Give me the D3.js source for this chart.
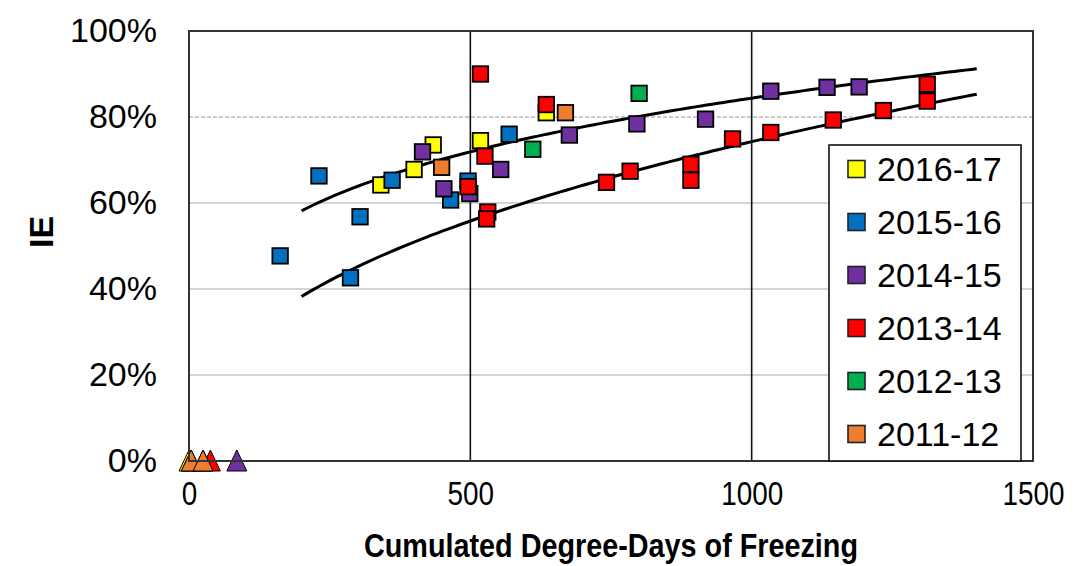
<!DOCTYPE html>
<html>
<head>
<meta charset="utf-8">
<script src="https://cdn.jsdelivr.net/npm/d3@7"></script>
<style>
  body { margin: 0; background: #fff; }
  text { font-family: "Liberation Sans", Arial, sans-serif; fill: #000; }
</style>
</head>
<body>
<div class="container"></div>
<script>
// seasons, in legend / drawing order
const SEASONS = ["2016-17", "2015-16", "2014-15", "2013-14", "2012-13", "2011-12"];
const COLORS = ["#ffff00", "#0070c0", "#7030a0", "#ff0000", "#00b050", "#ed7d31"];

// cumulated degree-days (x) and IE (y) per season
const dd1617 = [341, 400, 434, 518, 635];
const ie1617 = [0.642, 0.678, 0.735, 0.745, 0.810];
const dd1516 = [162, 231, 287, 304, 361, 465, 496, 569];
const ie1516 = [0.477, 0.663, 0.426, 0.568, 0.653, 0.607, 0.651, 0.760];
const dd1415 = [415, 453, 499, 554, 676, 796, 918, 1034, 1134, 1191];
const ie1415 = [0.719, 0.633, 0.622, 0.678, 0.758, 0.784, 0.795, 0.860, 0.869, 0.870];
const dd1314 = [496, 518, 526, 531, 529, 635, 742, 784, 892, 892, 966, 1034, 1145, 1234, 1312, 1312];
const ie1314 = [0.638, 0.900, 0.709, 0.579, 0.563, 0.829, 0.648, 0.674, 0.690, 0.653, 0.749, 0.764, 0.793, 0.815, 0.876, 0.837];
const dd1213 = [611, 800];
const ie1213 = [0.725, 0.855];
const dd1112 = [449, 669];
const ie1112 = [0.683, 0.810];

// start-of-season points at IE = 0 (triangles)
const triDD = [0, 4, 85, 38, 25, 4, 25];
const triSeason = [0, 1, 2, 3, 4, 5, 5];

// power trendlines  IE = c * DD^p  (percent), drawn from 200 to 1400
const trendCoef = [17.11, 4.313];
const trendExp = [0.231, 0.412];
const trendFrom = 200, trendTo = 1400;

const xTicks = [0, 500, 1000, 1500];
const yTicks = [0, 0.2, 0.4, 0.6, 0.8, 1.0];

const WIDTH = 1079, HEIGHT = 566;
const LEFT = 189, RIGHT = 1033, TOP = 31, BOTTOM = 461;
const NARROW = '"Liberation Sans Narrow", "Arial Narrow", "Liberation Sans", Arial, sans-serif';

var _svg, _x, _y;

var translate = function (x, y) {
  return "translate(" + x + "," + y + ")";
};

// squeeze a text horizontally if the narrow face is missing
var fitWidth = function (sel, maxW) {
  sel.each(function () {
    var w = this.getComputedTextLength();
    if (w > maxW) {
      d3.select(this).attr("textLength", maxW).attr("lengthAdjust", "spacingAndGlyphs");
    }
  });
};

var drawAxes = function () {
  _svg = d3.select(".container").append("svg")
      .attr("width", WIDTH)
      .attr("height", HEIGHT);

  _x = d3.scaleLinear().domain([0, 1500]).range([LEFT, RIGHT]);
  _y = d3.scaleLinear().domain([0, 1]).range([BOTTOM, TOP]);

  // horizontal gridlines
  _svg.append("g").selectAll("line")
      .data(yTicks.filter(function (d) { return d > 0 && d < 1; }))
    .enter().append("line")
      .attr("x1", LEFT).attr("x2", RIGHT)
      .attr("y1", function (d) { return _y(d); })
      .attr("y2", function (d) { return _y(d); })
      .attr("stroke", function (d) { return d === 0.8 ? "#b8b8b8" : "#c6c6c6"; })
      .attr("stroke-width", 1.5)
      .attr("stroke-dasharray", function (d) { return d === 0.8 ? "4,2" : null; });

  // vertical gridlines
  _svg.append("g").selectAll("line")
      .data(xTicks.filter(function (d) { return d > 0 && d < 1500; }))
    .enter().append("line")
      .attr("x1", function (d) { return _x(d); })
      .attr("x2", function (d) { return _x(d); })
      .attr("y1", TOP).attr("y2", BOTTOM)
      .attr("stroke", "#111")
      .attr("stroke-width", 1.6);

  var yAxis = d3.axisLeft(_y).tickValues(yTicks).tickSize(0).tickPadding(32)
      .tickFormat(d3.format(".0%"));
  var xAxis = d3.axisBottom(_x).tickValues(xTicks).tickSize(0).tickPadding(20)
      .tickFormat(d3.format("d"));

  var gy = _svg.append("g").attr("transform", translate(LEFT, 0)).call(yAxis);
  var gx = _svg.append("g").attr("transform", translate(0, BOTTOM)).call(xAxis);
  [gy, gx].forEach(function (g) {
    g.select(".domain").remove();
    g.selectAll("text")
        .attr("fill", "#000")
        .style("font-size", "34px");
  });
  gy.selectAll("text").style("font-family", '"Liberation Sans", Arial, sans-serif');
  gx.selectAll("text").style("font-family", NARROW);
  fitWidth(gx.selectAll("text"), 0);
  gx.selectAll("text").each(function (d) {
    var n = String(d).length;
    var w = this.getComputedTextLength();
    if (w > n * 15.5) {
      d3.select(this).attr("textLength", n * 15.5).attr("lengthAdjust", "spacingAndGlyphs");
    }
  });

  _svg.append("text")
      .attr("transform", translate(53, 232) + " rotate(-90)")
      .attr("text-anchor", "middle")
      .style("font-size", "34px")
      .style("font-weight", "bold")
      .text("IE");

  var title = _svg.append("text")
      .attr("x", (LEFT + RIGHT) / 2)
      .attr("y", 557)
      .attr("text-anchor", "middle")
      .style("font-family", NARROW)
      .style("font-size", "33px")
      .style("font-weight", "bold")
      .text("Cumulated Degree-Days of Freezing");
  fitWidth(title, 494);
};

var drawTrends = function () {
  var line = d3.line()
      .x(function (d) { return _x(d); })
      .curve(d3.curveLinear);
  trendCoef.forEach(function (c, i) {
    var xs = d3.range(trendFrom, trendTo + 1, 10);
    line.y(function (d) { return _y(c * Math.pow(d, trendExp[i]) / 100); });
    _svg.append("path")
        .datum(xs)
        .attr("d", line)
        .attr("fill", "none")
        .attr("stroke", "#000")
        .attr("stroke-width", 3);
  });
};

var drawPoints = function () {
  var ddList = [dd1617, dd1516, dd1415, dd1314, dd1213, dd1112];
  var ieList = [ie1617, ie1516, ie1415, ie1314, ie1213, ie1112];
  var S = 15.5;

  ddList.forEach(function (dds, s) {
    _svg.append("g").selectAll("rect")
        .data(dds.map(function (d, i) { return [d, ieList[s][i]]; }))
      .enter().append("rect")
        .attr("x", function (d) { return _x(d[0]) - S / 2; })
        .attr("y", function (d) { return _y(d[1]) - S / 2; })
        .attr("width", S)
        .attr("height", S)
        .attr("fill", COLORS[s])
        .attr("stroke", "#000")
        .attr("stroke-width", 1.8);
  });

  _svg.append("g").selectAll("path")
      .data(triDD.map(function (d, i) { return [d, triSeason[i]]; }))
    .enter().append("path")
      .attr("transform", function (d) { return translate(_x(d[0]), _y(0)); })
      .attr("d", "M0,-11L10,10L-10,10Z")
      .attr("fill", function (d) { return COLORS[d[1]]; })
      .attr("stroke", "#000")
      .attr("stroke-width", 1);
};

var drawFrame = function () {
  _svg.append("rect")
      .attr("x", LEFT).attr("y", TOP)
      .attr("width", RIGHT - LEFT).attr("height", BOTTOM - TOP)
      .attr("fill", "none")
      .attr("stroke", "#333")
      .attr("stroke-width", 2);
};

var drawLegend = function () {
  var lg = _svg.append("g");
  lg.append("rect")
      .attr("x", 829).attr("y", 145)
      .attr("width", 192).attr("height", BOTTOM - 145)
      .attr("fill", "#fff")
      .attr("stroke", "#111")
      .attr("stroke-width", 1.6);

  var item = lg.selectAll(".item")
      .data(SEASONS)
    .enter().append("g")
      .attr("transform", function (d, i) { return translate(848, 169 + i * 53); });

  item.append("rect")
      .attr("x", 0).attr("y", -8.5)
      .attr("width", 17).attr("height", 17)
      .attr("fill", function (d, i) { return COLORS[i]; })
      .attr("stroke", "#222")
      .attr("stroke-width", 1.6);

  item.append("text")
      .attr("x", 29)
      .attr("y", 12)
      .style("font-size", "34px")
      .text(function (d) { return d; });
};

window.onload = function () {
  drawAxes();
  drawTrends();
  drawPoints();
  drawFrame();
  drawLegend();
};
</script>
</body>
</html>
